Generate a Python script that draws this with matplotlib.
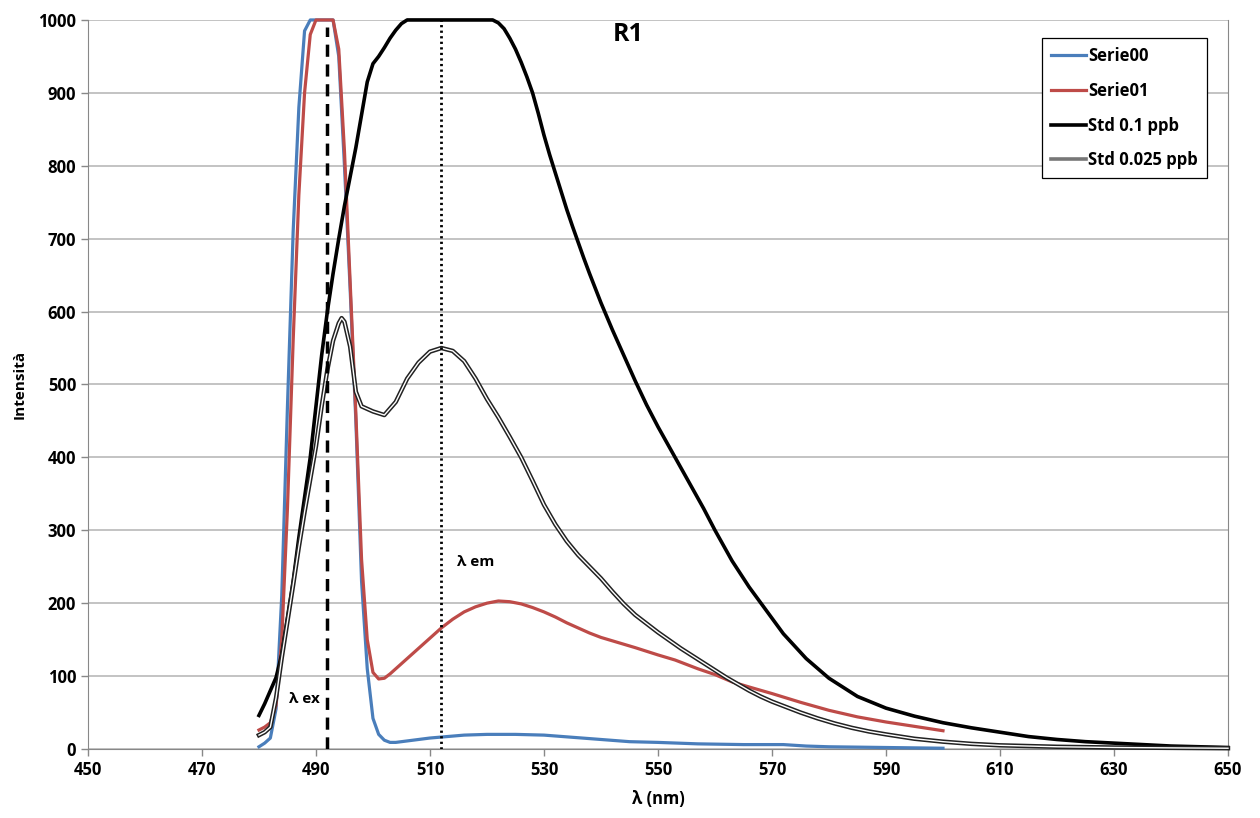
""" Emission spectra R1 """

import matplotlib
matplotlib.use("Agg")
import matplotlib.pyplot as plt
import matplotlib.patheffects as pe
from matplotlib.lines import Line2D

plt.rcParams['font.family'] = ['Open Sans', 'DejaVu Sans']
plt.rcParams['font.weight'] = 'bold'

# Serie00 (blue)
x_s00 = [480, 481, 482, 483, 484, 485, 486, 487, 488, 489, 490, 491, 492, 493,
         494, 495, 496, 497, 498, 499, 500, 501, 502, 503, 504, 506, 508, 510,
         513, 516, 520, 525, 530, 535, 540, 545, 550, 557, 565, 572, 576, 580,
         590, 600]
y_s00 = [3, 8, 15, 55, 210, 470, 710, 880, 985, 1000, 1000, 1000, 1000, 1000,
         950, 800, 630, 450, 230, 110, 42, 20, 12, 9, 9, 11, 13, 15,
         17, 19, 20, 20, 19, 16, 13, 10, 9, 7, 6, 6, 4, 3,
         2, 1]

# Serie01 (red)
x_s01 = [480, 481, 482, 483, 484, 485, 486, 487, 488, 489, 490, 491, 492, 493,
         494, 495, 496, 497, 498, 499, 500, 501, 502, 503, 504, 506, 508, 510,
         512, 514, 516, 518, 520, 522, 524, 526, 528, 530, 532, 534, 536, 538,
         540, 543, 546, 550, 553, 557, 560, 563, 566, 570, 575, 580, 585, 590,
         595, 600]
y_s01 = [26, 30, 36, 60, 150, 330, 560, 760, 900, 980, 1000, 1000, 1000, 1000,
         960, 820, 640, 460, 260, 150, 105, 96, 97, 103, 110, 124, 138, 152,
         166, 178, 188, 195, 200, 203, 202, 199, 194, 188, 181, 173, 166, 159,
         153, 146, 139, 129, 122, 110, 102, 92, 85, 76, 64, 53, 44, 37,
         31, 25]

# Std 0.1 ppb (black)
x_std1 = [480, 481, 482, 483, 484, 485, 486, 487, 488, 489, 490, 491, 492, 493,
          494, 495, 496, 497, 498, 499, 500, 501, 502, 503, 504, 505, 506, 510,
          515, 520, 521, 522, 523, 524, 525, 526, 527, 528, 529, 530, 531, 532,
          533, 534, 535, 536, 537, 538, 539, 540, 542, 544, 546, 548, 550, 552,
          554, 556, 558, 560, 563, 566, 569, 572, 576, 580, 585, 590, 595, 600,
          605, 610, 615, 620, 625, 630, 640, 650]
y_std1 = [46, 62, 80, 98, 130, 180, 230, 290, 345, 400, 470, 540, 600, 652,
          700, 745, 785, 825, 870, 915, 940, 950, 962, 975, 986, 995, 1000, 1000,
          1000, 1000, 1000, 996, 988, 975, 960, 942, 922, 900, 872, 842, 815, 790,
          765, 740, 717, 695, 673, 652, 632, 612, 575, 540, 505, 472, 442, 414,
          386, 358, 330, 300, 258, 222, 190, 158, 124, 97, 72, 56, 45, 36,
          29, 23, 17, 13, 10, 8, 4, 2]

# Std 0.025 ppb (double line)
x_std2 = [480, 481, 482, 483, 484, 485, 486, 487, 488, 489, 490, 491, 492, 493,
          494, 494.5, 495, 496, 497, 498, 500, 502, 504, 506, 508, 510, 512, 514,
          516, 518, 520, 522, 524, 526, 528, 530, 532, 534, 536, 538, 540, 542,
          544, 546, 548, 550, 552, 554, 556, 558, 560, 562, 564, 566, 568, 570,
          572, 575, 578, 581, 584, 587, 590, 595, 600, 605, 610, 620, 630, 650]
y_std2 = [19, 23, 30, 70, 125, 175, 225, 277, 325, 370, 415, 470, 520, 560,
          584, 591, 586, 552, 490, 470, 463, 458, 476, 508, 530, 545, 550, 546,
          532, 508, 480, 455, 428, 400, 368, 335, 308, 285, 266, 250, 234, 216,
          199, 184, 172, 160, 149, 138, 128, 118, 108, 98, 89, 80, 72, 65,
          59, 50, 42, 35, 29, 24, 20, 14, 10, 7, 5, 3, 2, 1]

lambda_ex = 492
lambda_em = 512

x_ticks = list(range(450, 651, 20))
y_ticks = list(range(0, 1001, 100))

blue = '#4A7EBB'
red = '#BE4B48'

fig = plt.figure(figsize=(12.6, 8.18), dpi=100)
ax = fig.add_axes([0.0698, 0.0844, 0.9048, 0.8912])

ax.plot(x_s00, y_s00, color=blue, lw=2.3, clip_on=False, zorder=3)
ax.plot(x_s01, y_s01, color=red, lw=2.3, clip_on=False, zorder=4)
ax.plot(x_std1, y_std1, color='black', lw=2.6, clip_on=False, zorder=5)
ax.plot(x_std2, y_std2, color='white', lw=1.0, clip_on=False, zorder=6,
        path_effects=[pe.Stroke(linewidth=3.2, foreground='#222222'), pe.Normal()])

ax.vlines(lambda_ex, 0, 990, colors='black', lw=2.5,
          linestyles=(0, (3.5, 2.2)), zorder=7)
ax.vlines(lambda_em, 0, 1000, colors='black', lw=2.0,
          linestyles=(0, (0.8, 1.2)), zorder=7)

ax.text(485.3, 69, 'λ ex', fontsize=11, fontweight='bold', va='center')
ax.text(514.7, 256, 'λ em', fontsize=11, fontweight='bold', va='center')
ax.text(542, 980, 'R1', fontsize=18, fontweight='bold', va='center')

ax.set_xlim(450, 650)
ax.set_ylim(0, 1000)
ax.set_xticks(x_ticks)
ax.set_yticks(y_ticks)
ax.tick_params(axis='both', labelsize=12, direction='out', length=5,
               color='#888888', width=1)
for lab in ax.get_xticklabels() + ax.get_yticklabels():
    lab.set_fontweight('bold')
ax.yaxis.grid(True, color='#b3b3b3', lw=1.1)
ax.set_axisbelow(True)
for side in ['left', 'bottom', 'right']:
    ax.spines[side].set_color('#888888')
ax.spines['top'].set_visible(False)

ax.set_xlabel('λ (nm)', fontsize=12, fontweight='bold', labelpad=8)
ax.set_ylabel('Intensità', fontsize=11, fontweight='bold', labelpad=8)

handles = [Line2D([], [], color=blue, lw=2.3),
           Line2D([], [], color=red, lw=2.3),
           Line2D([], [], color='black', lw=2.6),
           Line2D([], [], color='#777777', lw=2.6)]
leg = ax.legend(handles, ['Serie00', 'Serie01', 'Std 0.1 ppb', 'Std 0.025 ppb'],
                loc='upper right', bbox_to_anchor=(1207 / 1260, 1 - 38 / 818),
                bbox_transform=fig.transFigure, fancybox=False, framealpha=1,
                edgecolor='black', fontsize=12, handlelength=2.1,
                handletextpad=0.1, labelspacing=1.0, borderpad=0.55,
                borderaxespad=0)
leg.get_frame().set_linewidth(0.9)
for t in leg.get_texts():
    t.set_fontweight('bold')

plt.savefig('out.png', dpi=100)
